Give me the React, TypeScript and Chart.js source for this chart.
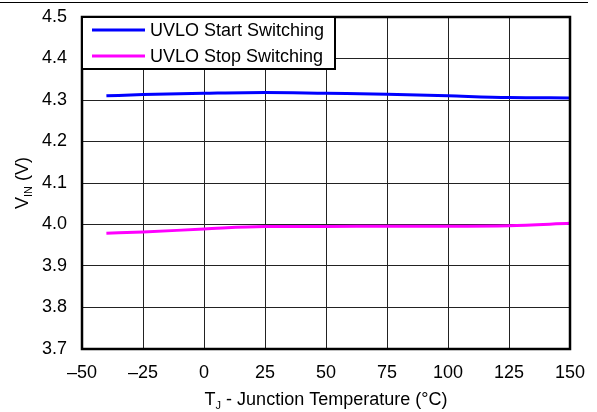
import React, { useEffect, useRef } from "react";
import { Chart, registerables } from "chart.js";

Chart.register(...registerables);

const temperatures = [-40, -25, 0, 25, 50, 75, 100, 125, 150];
const startSwitching = [4.31, 4.313, 4.316, 4.318, 4.316, 4.314, 4.31, 4.306, 4.305];
const stopSwitching = [3.979, 3.982, 3.989, 3.995, 3.995, 3.996, 3.996, 3.997, 4.003];
const seriesLabels = ["UVLO Start Switching", "UVLO Stop Switching"];
const seriesColors = ["#0000FF", "#FF00FF"];
const xMin = -50;
const xMax = 150;
const xStep = 25;
const yMin = 3.7;
const yMax = 4.5;
const yStep = 0.1;

const FONT = "Arial, 'Liberation Sans', sans-serif";

const decorPlugin = {
  id: "decor",
  afterDraw(chart: any) {
    const { ctx, chartArea } = chart;
    const { left, top, right, bottom } = chartArea;
    ctx.save();
    // top rule of the page
    ctx.strokeStyle = "#000";
    ctx.lineWidth = 1.2;
    ctx.beginPath();
    ctx.moveTo(0, 2.5);
    ctx.lineTo(588, 2.5);
    ctx.stroke();

    // plot frame
    ctx.lineWidth = 2.5;
    ctx.strokeRect(left, top, right - left, bottom - top);

    // legend
    const lx = left, ly = top, lw = 253, lh = 52;
    ctx.fillStyle = "#fff";
    ctx.fillRect(lx, ly, lw, lh);
    ctx.lineWidth = 2;
    ctx.strokeStyle = "#000";
    ctx.strokeRect(lx, ly, lw, lh);
    const ds = chart.data.datasets;
    ds.forEach((d: any, i: number) => {
      const yy = ly + 13 + i * 26;
      ctx.strokeStyle = d.borderColor;
      ctx.lineWidth = 3;
      ctx.beginPath();
      ctx.moveTo(lx + 10, yy);
      ctx.lineTo(lx + 63, yy);
      ctx.stroke();
      ctx.fillStyle = "#000";
      ctx.font = `18px ${FONT}`;
      ctx.textAlign = "left";
      ctx.textBaseline = "middle";
      ctx.fillText(d.label, lx + 68, yy + 1);
    });

    // x axis title
    ctx.fillStyle = "#000";
    ctx.textBaseline = "alphabetic";
    ctx.textAlign = "left";
    const big = `18px ${FONT}`;
    const small = `11px ${FONT}`;
    ctx.font = big;
    const t1 = "T";
    const t3 = " - Junction Temperature (°C)";
    const w1 = ctx.measureText(t1).width;
    const w3 = ctx.measureText(t3).width;
    ctx.font = small;
    const t2 = "J";
    const w2 = ctx.measureText(t2).width;
    const total = w1 + w2 + w3;
    const x0 = (left + right) / 2 - total / 2;
    const by = 405;
    ctx.font = big;
    ctx.fillText(t1, x0, by);
    ctx.font = small;
    ctx.fillText(t2, x0 + w1, by + 4);
    ctx.font = big;
    ctx.fillText(t3, x0 + w1 + w2, by);

    // y axis title
    ctx.save();
    ctx.translate(28, (top + bottom) / 2);
    ctx.rotate(-Math.PI / 2);
    const y1 = "V";
    const y2 = "IN";
    const y3 = " (V)";
    ctx.font = big;
    const v1 = ctx.measureText(y1).width;
    const v3 = ctx.measureText(y3).width;
    ctx.font = small;
    const v2 = ctx.measureText(y2).width;
    const vt = v1 + v2 + v3;
    const s = -vt / 2;
    ctx.font = big;
    ctx.fillText(y1, s, 0);
    ctx.font = small;
    ctx.fillText(y2, s + v1, 4);
    ctx.font = big;
    ctx.fillText(y3, s + v1 + v2, 0);
    ctx.restore();

    ctx.restore();
  },
};

export default function App() {
  const ref = useRef<HTMLCanvasElement>(null);
  useEffect(() => {
    document.body.style.margin = "0";
    const canvas = ref.current!;
    const chart = new Chart(canvas, {
      type: "line",
      data: {
        datasets: [
          {
            label: seriesLabels[0],
            data: temperatures.map((t, i) => ({ x: t, y: startSwitching[i] })),
            borderColor: seriesColors[0],
            backgroundColor: seriesColors[0],
            borderWidth: 3,
            pointRadius: 0,
            cubicInterpolationMode: "monotone",
          },
          {
            label: seriesLabels[1],
            data: temperatures.map((t, i) => ({ x: t, y: stopSwitching[i] })),
            borderColor: seriesColors[1],
            backgroundColor: seriesColors[1],
            borderWidth: 3,
            pointRadius: 0,
            cubicInterpolationMode: "monotone",
          },
        ],
      },
      options: {
        responsive: false,
        animation: false,
        devicePixelRatio: 1,
        layout: { autoPadding: false, padding: { left: 0, top: 17, right: 27, bottom: 0 } },
        plugins: { legend: { display: false }, tooltip: { enabled: false } },
        scales: {
          x: {
            type: "linear",
            min: xMin,
            max: xMax,
            ticks: {
              stepSize: xStep,
              color: "#000",
              font: { family: FONT, size: 18 },
              padding: 13,
              callback: (v: any) => String(v).replace("-", "\u2013"),
            },
            grid: { color: "#222", lineWidth: 1, drawTicks: false },
            border: { display: false },
            afterFit: (s: any) => {
              s.height = 63;
              s.paddingLeft = 0;
              s.paddingRight = 0;
              s.paddingTop = 0;
              s.paddingBottom = 0;
            },
          },
          y: {
            type: "linear",
            min: yMin,
            max: yMax,
            ticks: {
              stepSize: yStep,
              color: "#000",
              font: { family: FONT, size: 18 },
              padding: 15,
              callback: (v: any) => Number(v).toFixed(1),
            },
            grid: { color: "#222", lineWidth: 1, drawTicks: false },
            border: { display: false },
            afterFit: (s: any) => {
              s.width = 82;
              s.paddingLeft = 0;
              s.paddingRight = 0;
              s.paddingTop = 0;
              s.paddingBottom = 0;
            },
          },
        },
      },
      plugins: [decorPlugin],
    } as any);
    return () => chart.destroy();
  }, []);
  return <canvas ref={ref} width={597} height={412} style={{ display: "block" }} />;
}
